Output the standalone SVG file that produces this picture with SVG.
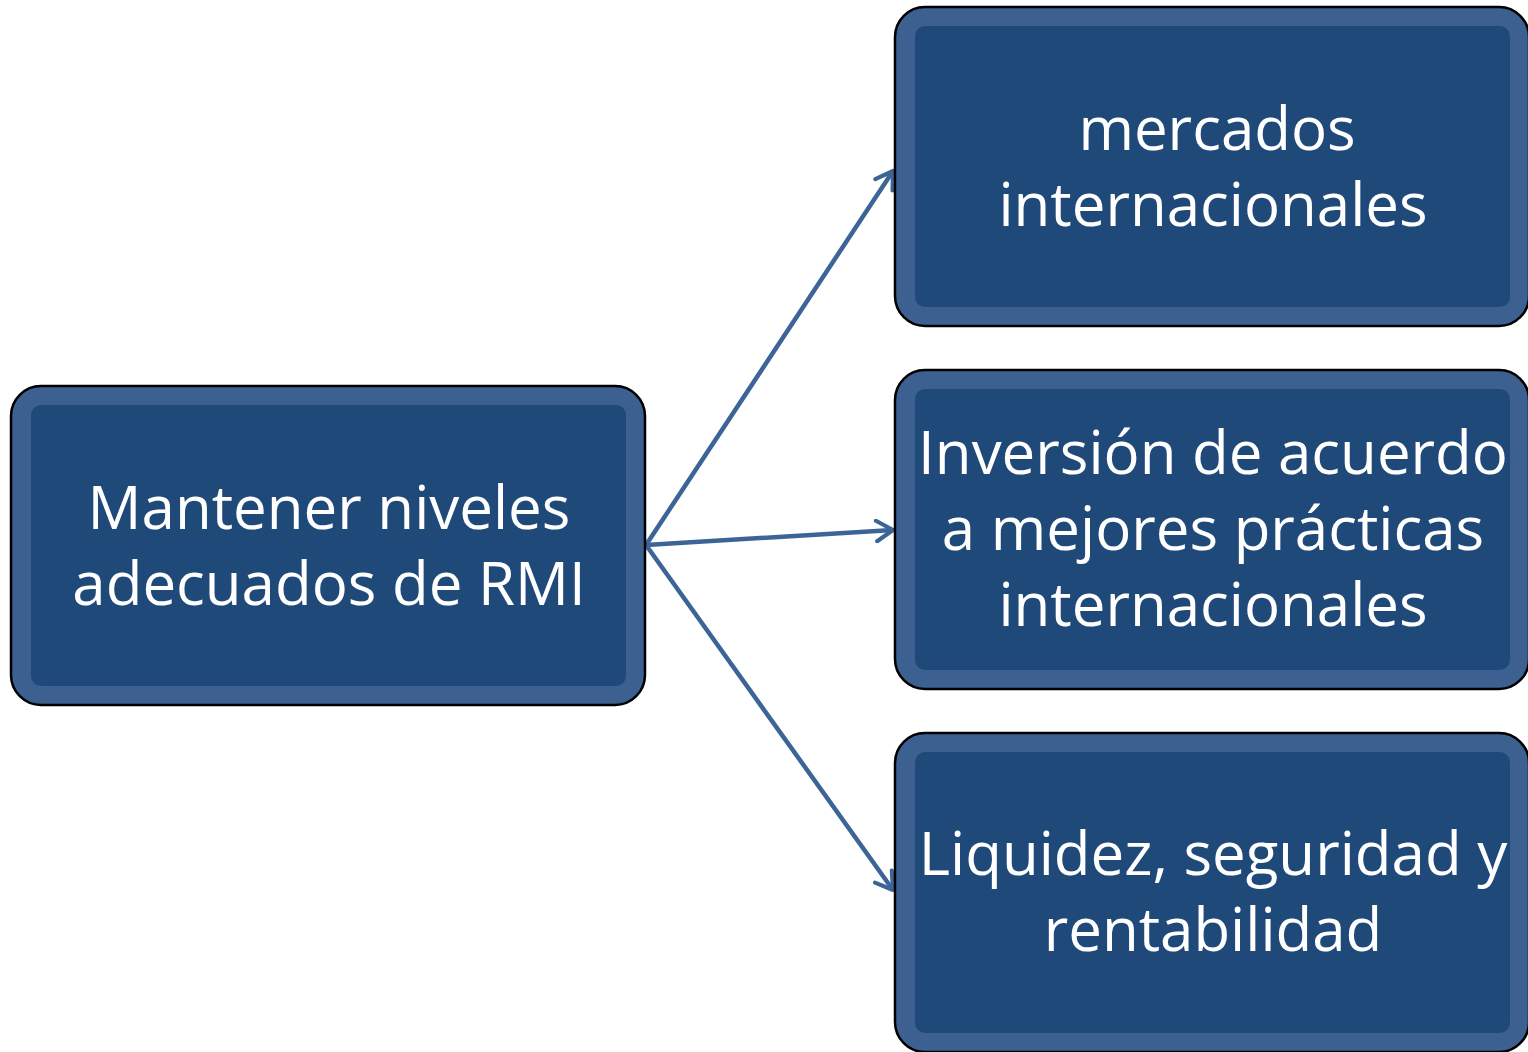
<svg xmlns="http://www.w3.org/2000/svg" width="1528" height="1052" viewBox="0 0 1528 1052">
<defs>
<style>
.outer{fill:#3c6090;stroke:#000;stroke-width:2.5}
.inner{fill:#1f4979}
.t{font-family:"Open Sans","Liberation Sans",sans-serif;font-size:60px;fill:#fff;text-anchor:middle}
.c{stroke:#3c6496;stroke-width:4.5;fill:none;marker-end:url(#ah)}
</style>
<marker id="ah" viewBox="0 0 12 12" refX="10" refY="6" markerWidth="5.5" markerHeight="5.5" markerUnits="strokeWidth" orient="auto">
<path d="M2,1 L10,6 L2,11" fill="none" stroke="#3c6496" stroke-width="2" stroke-linecap="round" stroke-linejoin="round"/>
</marker>
</defs>
<g id="connectors">
<line class="c" x1="646" y1="545" x2="893" y2="171"/>
<line class="c" x1="646" y1="545" x2="893" y2="530"/>
<line class="c" x1="646" y1="545" x2="893" y2="890"/>
</g>
<g id="node-main">
<rect class="outer" x="11" y="386" width="634" height="319" rx="30"/>
<rect class="inner" x="31" y="405" width="595" height="281" rx="10"/>
<text class="t" x="329" y="529">Mantener niveles</text>
<text class="t" x="329" y="605">adecuados de RMI</text>
</g>
<g id="node-mercados">
<rect class="outer" x="895" y="7" width="634" height="319" rx="30"/>
<rect class="inner" x="915" y="26" width="595" height="281" rx="10"/>
<text class="t" x="1217" y="150">mercados</text>
<text class="t" x="1213" y="226">internacionales</text>
</g>
<g id="node-inversion">
<rect class="outer" x="895" y="370" width="634" height="319" rx="30"/>
<rect class="inner" x="915" y="389" width="595" height="281" rx="10"/>
<text class="t" x="1213" y="474">Inversión de acuerdo</text>
<text class="t" x="1213" y="550">a mejores prácticas</text>
<text class="t" x="1213" y="626">internacionales</text>
</g>
<g id="node-liquidez">
<rect class="outer" x="895" y="733" width="634" height="319" rx="30"/>
<rect class="inner" x="915" y="752" width="595" height="281" rx="10"/>
<text class="t" x="1213" y="875">Liquidez, seguridad y</text>
<text class="t" x="1213" y="951">rentabilidad</text>
</g>
</svg>
